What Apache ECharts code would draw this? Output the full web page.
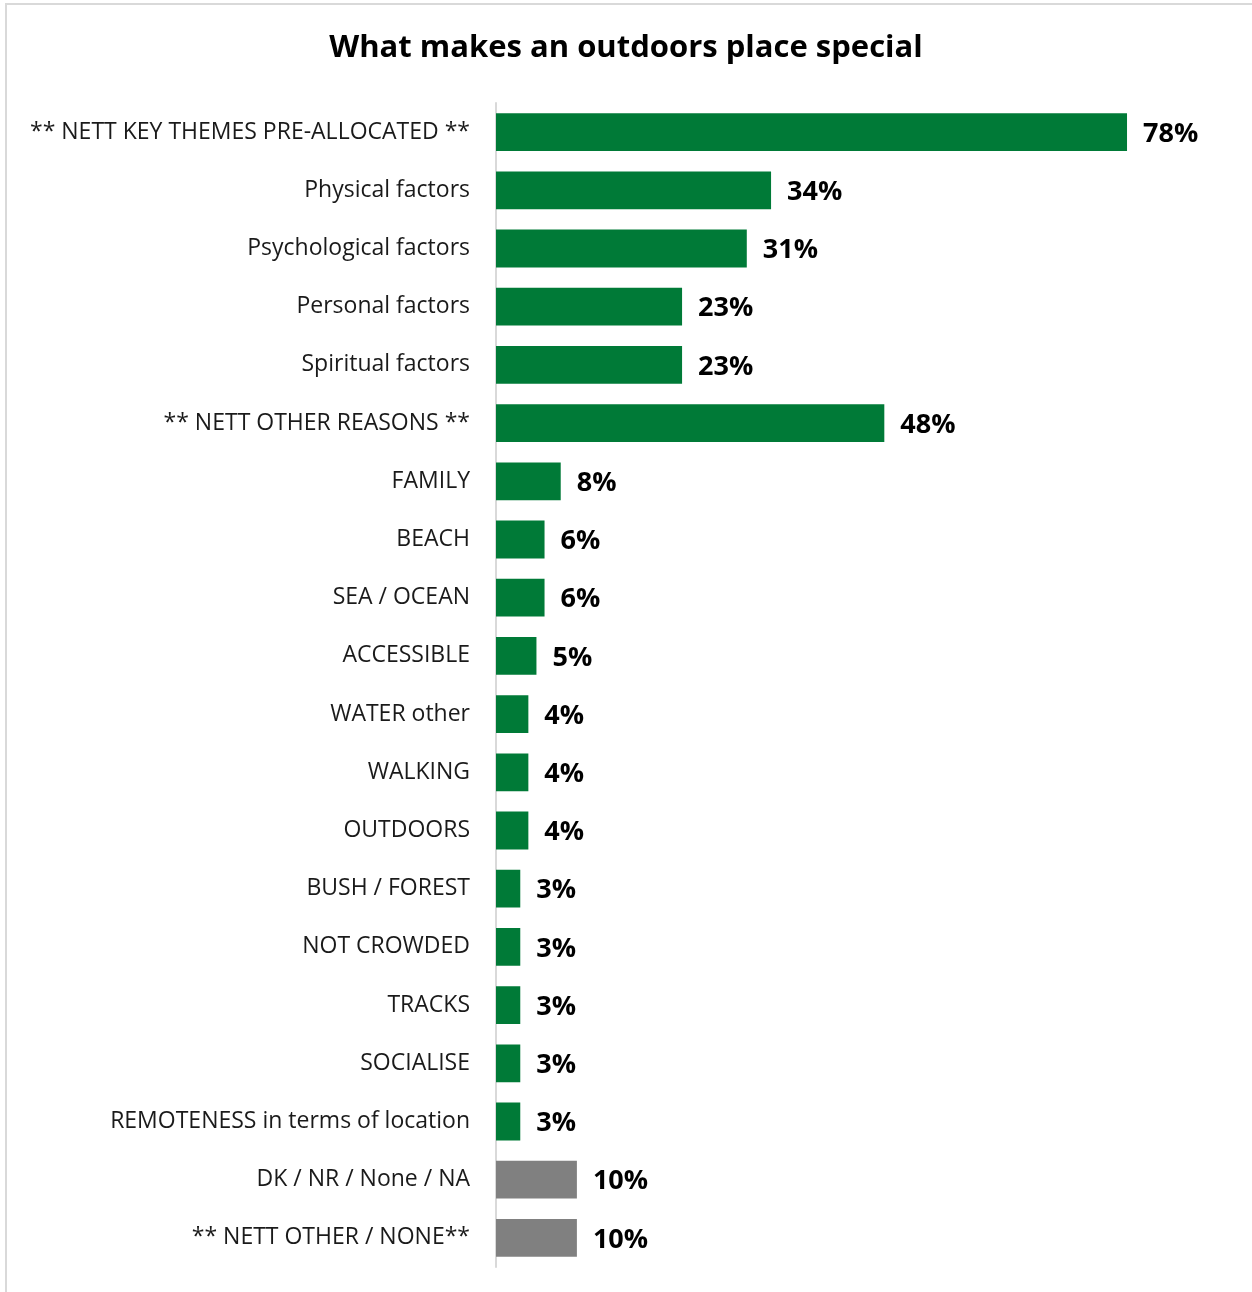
<!DOCTYPE html>
<html>
<head>
<meta charset="utf-8">
<script src="https://cdn.jsdelivr.net/npm/echarts@6/dist/echarts.min.js"></script>
<style>
  html, body { margin: 0; padding: 0; background: #ffffff; }
  #chart { width: 1252px; height: 1292px; }
</style>
</head>
<body>
<div id="chart"></div>
<script>
// Survey answers, top to bottom
const categories = [
  '** NETT KEY THEMES PRE-ALLOCATED **',
  'Physical factors',
  'Psychological factors',
  'Personal factors',
  'Spiritual factors',
  '** NETT OTHER REASONS **',
  'FAMILY',
  'BEACH',
  'SEA / OCEAN',
  'ACCESSIBLE',
  'WATER other',
  'WALKING',
  'OUTDOORS',
  'BUSH / FOREST',
  'NOT CROWDED',
  'TRACKS',
  'SOCIALISE',
  'REMOTENESS in terms of location',
  'DK / NR / None / NA',
  '** NETT OTHER / NONE**'
];
const values = [78, 34, 31, 23, 23, 48, 8, 6, 6, 5, 4, 4, 4, 3, 3, 3, 3, 3, 10, 10];
// the last two answers are the "none" group, drawn in grey
const noneGroup = ['DK / NR / None / NA', '** NETT OTHER / NONE**'];

const GREEN = '#007A37';
const GREY = '#808080';
const FONT = '"Open Sans", "Noto Sans", sans-serif';

const barData = categories.map((c, i) => ({
  value: values[i],
  itemStyle: { color: noneGroup.includes(c) ? GREY : GREEN }
}));

const chart = echarts.init(document.getElementById('chart'), null, { renderer: 'canvas' });
chart.setOption({
  backgroundColor: '#ffffff',
  animation: false,
  title: {
    text: 'What makes an outdoors place special',
    left: 'center',
    top: 28,
    textStyle: { fontFamily: FONT, fontSize: 31, fontWeight: 'bold', color: '#000000' }
  },
  graphic: [
    { type: 'line', shape: { x1: 5, y1: 4, x2: 1252, y2: 4 }, style: { stroke: '#d9d9d9', lineWidth: 2 } },
    { type: 'line', shape: { x1: 6, y1: 4, x2: 6, y2: 1292 }, style: { stroke: '#d9d9d9', lineWidth: 2 } }
  ],
  grid: { left: 496, top: 103, width: 728.1, height: 1164, containLabel: false },
  xAxis: {
    type: 'value',
    min: 0,
    max: 90,
    show: false
  },
  yAxis: {
    type: 'category',
    data: categories,
    inverse: true,
    axisLine: { show: true, lineStyle: { color: '#d9d9d9', width: 2 } },
    axisTick: { show: false },
    axisLabel: { fontFamily: FONT, fontSize: 23, color: '#1a1a1a', margin: 26 }
  },
  series: [{
    type: 'bar',
    data: barData,
    barCategoryGap: '35%',
    label: {
      show: true,
      position: 'right',
      distance: 16,
      offset: [0, 2],
      formatter: '{c}%',
      fontFamily: FONT,
      fontSize: 27,
      fontWeight: 'bold',
      color: '#000000'
    }
  }]
});
</script>
</body>
</html>
